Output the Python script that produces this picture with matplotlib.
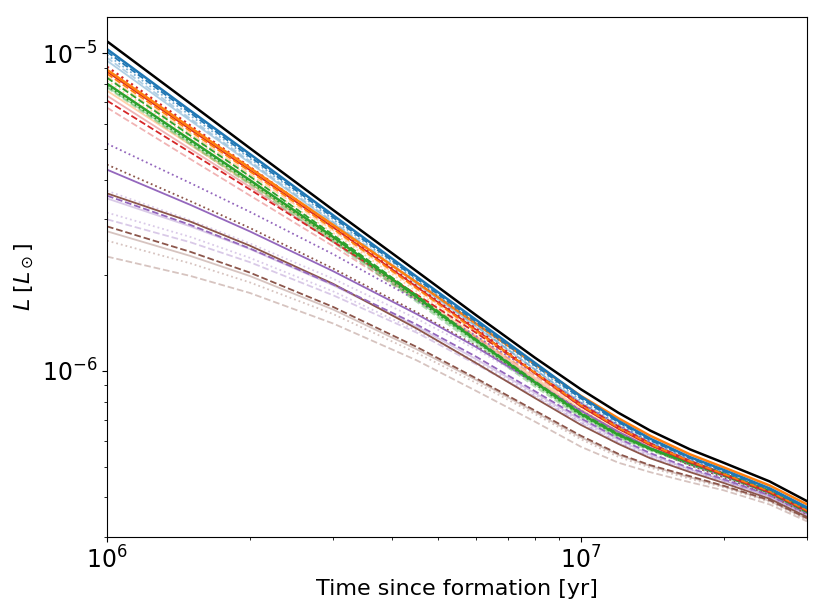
import matplotlib
matplotlib.use("Agg")
import matplotlib.pyplot as plt
import numpy as np

# time grid [yr]
time_yr = [1e6, 1.5e6, 2e6, 3e6, 4.5e6, 6e6, 8e6, 1e7, 1.2e7, 1.4e7, 1.7e7, 2e7, 2.5e7, 3e7]

# luminosities in units of 1e-6 L_sun
black_ref      = [10.9, 6.94, 5.03, 3.21, 2.06, 1.5, 1.1, 0.875, 0.738, 0.649, 0.566, 0.514, 0.449, 0.389]
blue_solid     = [10.3, 6.59, 4.82, 3.09, 1.98, 1.45, 1.06, 0.831, 0.696, 0.612, 0.535, 0.488, 0.427, 0.372]
blue_dashed    = [10.1, 6.48, 4.73, 3.04, 1.95, 1.43, 1.04, 0.819, 0.689, 0.605, 0.531, 0.483, 0.424, 0.369]
blue_dotted    = [9.89, 6.36, 4.67, 3.0, 1.93, 1.41, 1.03, 0.808, 0.681, 0.601, 0.527, 0.48, 0.421, 0.367]
lblue_dashed   = [9.68, 6.22, 4.58, 2.95, 1.9, 1.39, 1.01, 0.796, 0.674, 0.595, 0.523, 0.476, 0.418, 0.364]
lblue_solid    = [9.47, 6.13, 4.52, 2.92, 1.88, 1.38, 1.01, 0.79, 0.669, 0.59, 0.519, 0.474, 0.418, 0.364]
red_dotted     = [9.07, 5.92, 4.39, 2.86, 1.85, 1.36, 0.991, 0.779, 0.662, 0.586, 0.517, 0.473, 0.416, 0.363]
orange_solid   = [8.87, 5.83, 4.36, 2.88, 1.9, 1.41, 1.05, 0.834, 0.709, 0.625, 0.546, 0.497, 0.436, 0.38]
red_solid      = [8.75, 5.75, 4.29, 2.83, 1.84, 1.35, 0.983, 0.773, 0.657, 0.584, 0.516, 0.471, 0.415, 0.362]
orange_dashed  = [8.62, 5.68, 4.25, 2.8, 1.82, 1.34, 0.987, 0.779, 0.662, 0.588, 0.519, 0.474, 0.418, 0.364]
green_dashed   = [8.37, 5.5, 4.1, 2.68, 1.73, 1.26, 0.928, 0.738, 0.634, 0.571, 0.512, 0.469, 0.413, 0.359]
lorange_dotted = [8.19, 5.44, 4.08, 2.72, 1.78, 1.32, 0.973, 0.771, 0.657, 0.584, 0.517, 0.473, 0.416, 0.362]
green_solid    = [8.02, 5.33, 3.99, 2.64, 1.71, 1.25, 0.921, 0.732, 0.629, 0.569, 0.514, 0.474, 0.419, 0.367]
green_dotted   = [7.9, 5.25, 3.94, 2.6, 1.68, 1.24, 0.908, 0.725, 0.625, 0.565, 0.508, 0.468, 0.413, 0.359]
lgreen_dashed  = [7.79, 5.16, 3.86, 2.54, 1.65, 1.21, 0.892, 0.714, 0.616, 0.561, 0.506, 0.466, 0.41, 0.356]
lgreen_solid   = [7.85, 5.21, 3.91, 2.58, 1.67, 1.23, 0.905, 0.722, 0.622, 0.565, 0.508, 0.468, 0.413, 0.359]
lorange_solid  = [7.62, 5.14, 3.89, 2.61, 1.73, 1.29, 0.952, 0.757, 0.645, 0.578, 0.514, 0.471, 0.415, 0.359]
pink_solid     = [7.35, 4.99, 3.8, 2.55, 1.7, 1.27, 0.938, 0.746, 0.638, 0.573, 0.512, 0.469, 0.413, 0.359]
red_dashed     = [7.09, 4.87, 3.73, 2.55, 1.74, 1.32, 0.987, 0.787, 0.669, 0.592, 0.521, 0.476, 0.419, 0.364]
pink_dashed    = [6.74, 4.64, 3.57, 2.47, 1.68, 1.28, 0.966, 0.773, 0.659, 0.586, 0.517, 0.473, 0.416, 0.362]
lorange_dashed = [8.44, 5.58, 4.17, 2.77, 1.81, 1.33, 0.98, 0.773, 0.659, 0.586, 0.517, 0.473, 0.416, 0.363]
purple_dotted  = [5.19, 3.9, 3.17, 2.33, 1.67, 1.29, 0.983, 0.793, 0.674, 0.595, 0.521, 0.474, 0.416, 0.362]
purple_solid   = [4.3, 3.33, 2.75, 2.06, 1.51, 1.19, 0.918, 0.749, 0.643, 0.573, 0.51, 0.468, 0.413, 0.36]
brown_dotted   = [4.46, 3.42, 2.82, 2.1, 1.53, 1.2, 0.921, 0.751, 0.641, 0.569, 0.504, 0.462, 0.407, 0.354]
lpurple_dotted = [3.69, 2.98, 2.52, 1.95, 1.46, 1.17, 0.915, 0.751, 0.641, 0.569, 0.503, 0.461, 0.406, 0.354]
brown_solid    = [3.62, 2.95, 2.48, 1.88, 1.36, 1.06, 0.821, 0.676, 0.589, 0.531, 0.48, 0.444, 0.396, 0.347]
purple_dashed  = [3.56, 2.88, 2.43, 1.87, 1.4, 1.11, 0.863, 0.709, 0.613, 0.551, 0.494, 0.456, 0.406, 0.356]
lpurple_solid  = [3.49, 2.85, 2.42, 1.86, 1.38, 1.09, 0.851, 0.701, 0.607, 0.545, 0.49, 0.453, 0.403, 0.353]
lpurple_dotted2= [3.15, 2.64, 2.27, 1.78, 1.34, 1.07, 0.839, 0.691, 0.598, 0.539, 0.487, 0.451, 0.402, 0.351]
lpurple_dashed = [3.0, 2.54, 2.2, 1.73, 1.32, 1.05, 0.83, 0.686, 0.594, 0.535, 0.483, 0.449, 0.4, 0.349]
brown_dashed   = [2.85, 2.37, 2.04, 1.59, 1.19, 0.949, 0.75, 0.625, 0.548, 0.505, 0.466, 0.435, 0.392, 0.344]
lbrown_solid   = [2.75, 2.3, 1.99, 1.56, 1.17, 0.938, 0.742, 0.618, 0.544, 0.502, 0.462, 0.433, 0.39, 0.342]
lbrown_dotted  = [2.57, 2.18, 1.9, 1.51, 1.14, 0.918, 0.731, 0.609, 0.536, 0.496, 0.457, 0.43, 0.387, 0.34]
lbrown_dashed  = [2.29, 1.99, 1.76, 1.41, 1.08, 0.866, 0.692, 0.577, 0.514, 0.48, 0.446, 0.421, 0.38, 0.336]

LIGHT = 0.35
# (values, color, linestyle, alpha, linewidth)
series = [
    (lbrown_dashed, "C5", "--", LIGHT, 1.3),
    (lbrown_dotted, "C5", ":", LIGHT, 1.3),
    (lbrown_solid, "C5", "-", LIGHT, 1.3),
    (lpurple_dashed, "C4", "--", LIGHT, 1.3),
    (lpurple_dotted2, "C4", ":", LIGHT, 1.3),
    (lpurple_solid, "C4", "-", LIGHT, 1.3),
    (lpurple_dotted, "C4", ":", LIGHT, 1.3),
    (pink_dashed, "C3", "--", LIGHT, 1.3),
    (pink_solid, "C3", "-", LIGHT, 1.3),
    (lorange_solid, "C1", "-", LIGHT, 1.3),
    (lorange_dotted, "C1", ":", LIGHT, 1.3),
    (lorange_dashed, "C1", "--", LIGHT, 1.3),
    (lgreen_dashed, "C2", "--", LIGHT, 1.3),
    (lgreen_solid, "C2", "-", LIGHT, 1.3),
    (lblue_dashed, "C0", "--", LIGHT, 1.3),
    (lblue_solid, "C0", "-", LIGHT, 1.3),
    (brown_dashed, "C5", "--", 1.0, 1.3),
    (brown_solid, "C5", "-", 1.0, 1.3),
    (brown_dotted, "C5", ":", 1.0, 1.3),
    (purple_dashed, "C4", "--", 1.0, 1.3),
    (purple_solid, "C4", "-", 1.0, 1.3),
    (purple_dotted, "C4", ":", 1.0, 1.3),
    (red_dashed, "C3", "--", 1.0, 1.3),
    (green_dotted, "C2", ":", 1.0, 1.3),
    (green_dashed, "C2", "--", 1.0, 1.3),
    (green_solid, "C2", "-", 1.0, 1.8),
    (red_solid, "C3", "-", 1.0, 1.3),
    (red_dotted, "C3", ":", 1.0, 1.6),
    (orange_dashed, "C1", "--", 1.0, 1.3),
    (orange_solid, "C1", "-", 1.0, 1.8),
    (blue_dotted, "C0", ":", 0.6, 1.3),
    (blue_dashed, "C0", "--", 1.0, 1.3),
    (blue_solid, "C0", "-", 1.0, 1.8),
]

fig = plt.figure(figsize=(8.23, 6.11), dpi=100)
ax = fig.add_axes([0.130, 0.1211, 0.8506, 0.8511])

t = np.array(time_yr)
for vals, c, ls, a, lw in series:
    ax.plot(t, np.array(vals) * 1e-6, color=c, ls=ls, alpha=a, lw=lw)
ax.plot(t, np.array(black_ref) * 1e-6, color="black", lw=1.8)

ax.set_xscale("log")
ax.set_yscale("log")
ax.set_xlim(1e6, 3e7)
ax.set_ylim(3.0e-7, 1.3e-5)
ax.tick_params(axis="both", which="major", labelsize=17)
ax.set_xlabel("Time since formation [yr]", fontsize=16)
ax.set_ylabel(r"$L\;[L_\odot]$", fontsize=16)

fig.savefig("out.png", dpi=100)
